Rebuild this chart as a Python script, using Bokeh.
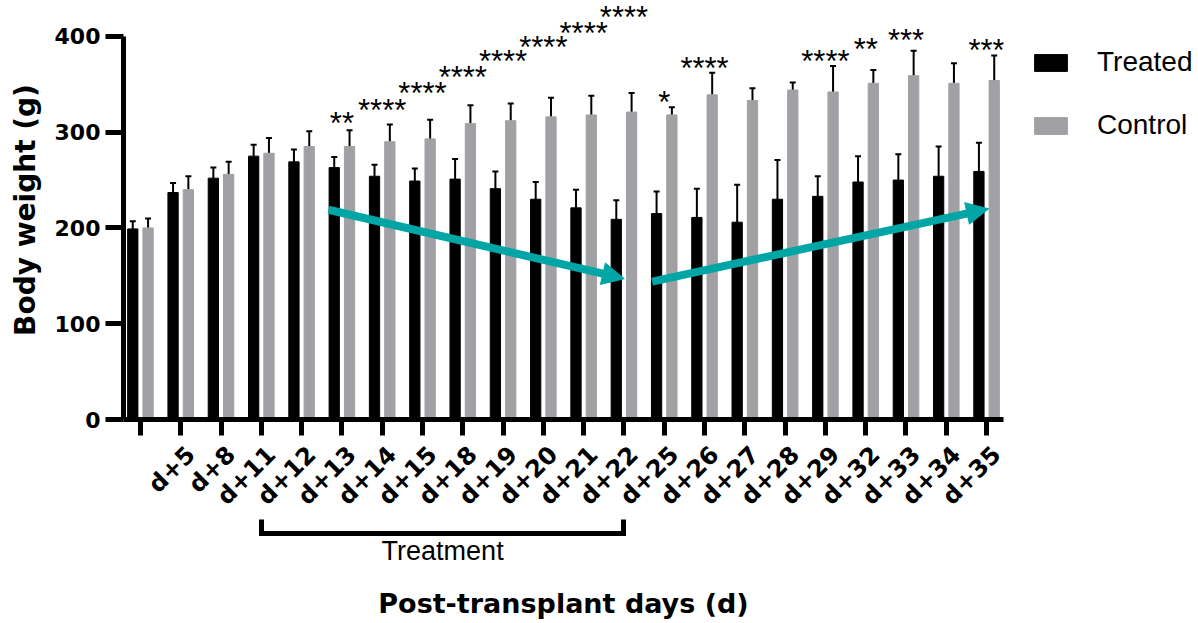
import math
from bokeh.plotting import figure
from bokeh.models import (Range1d, FixedTicker, LinearAxis, Legend, LegendItem,
                          Whisker, TeeHead, Arrow, NormalHead, ColumnDataSource)
from bokeh.core.properties import value
from bokeh.embed import file_html
from bokeh.resources import INLINE

# ---------------- data ----------------
day_labels = ["", "d+5", "d+8", "d+11", "d+12", "d+13", "d+14", "d+15", "d+18", "d+19",
              "d+20", "d+21", "d+22", "d+25", "d+26", "d+27", "d+28", "d+29", "d+32",
              "d+33", "d+34", "d+35"]
treated_mean = [199, 237, 252, 275, 269, 263, 254, 249, 251, 241, 230, 221, 209, 215, 211,
                206, 230, 233, 248, 250, 254, 259]
treated_sd = [8, 10, 11, 12, 13, 11, 12, 13, 21, 18, 18, 19, 20, 23, 30, 39, 41, 21, 27,
              27, 31, 30]
control_mean = [200, 240, 256, 278, 285, 285, 290, 293, 309, 312, 316, 318, 321, 318, 339,
                333, 344, 342, 351, 359, 351, 354]
control_sd = [10, 14, 13, 16, 16, 17, 18, 20, 19, 18, 20, 20, 20, 8, 23, 13, 8, 27, 14, 26,
              21, 26]
star_groups = [5, 6, 7, 8, 9, 10, 11, 12, 13, 14, 17, 18, 19, 21]
star_marks = ["**", "****", "****", "****", "****", "****", "****", "****", "*", "****",
              "****", "**", "***", "***"]
star_heights = [312, 326, 344, 360, 377, 392, 406, 423, 334, 370, 377, 389, 399, 388]
treatment_groups = [3, 12]          # d+11 .. d+22
trend_down = [(4.67, 219), (12.01, 147)]
trend_up = [(12.70, 144), (21.05, 220)]
series_names = ["Treated", "Control"]

# ---------------- styles ----------------
BLACK = "#000000"
GREY = "#a1a0a5"
TEAL = "#00a5a5"
BOLD_FONT = "DejaVu Sans"
REG_FONT = "Liberation Sans"
OFF = 0.19
BW = 0.255
LABEL_SHIFT = 0.25   # rotated labels sit a little right of their tick

x = list(range(len(day_labels)))
xt = [i - OFF for i in x]
xc = [i + OFF for i in x]

src = ColumnDataSource(dict(
    xt=xt, xc=xc, tm=treated_mean, cm=control_mean,
    tu=[m + s for m, s in zip(treated_mean, treated_sd)],
    cu=[m + s for m, s in zip(control_mean, control_sd)],
))

p = figure(frame_width=880, frame_height=419,
           x_range=Range1d(-0.42, 21.42), y_range=Range1d(0, 437.5),
           output_backend="svg", toolbar_location=None,
           min_border_left=123, min_border_right=192, min_border_top=0, min_border_bottom=0)
p.outline_line_color = None
p.xgrid.visible = False
p.ygrid.visible = False
p.background_fill_color = "white"
p.border_fill_color = "white"

r_t = p.vbar(x="xt", top="tm", width=BW, source=src, fill_color=BLACK, line_color=BLACK)
r_c = p.vbar(x="xc", top="cm", width=BW, source=src, fill_color=GREY, line_color=GREY)

for base, lo, up in (("xt", "tm", "tu"), ("xc", "cm", "cu")):
    p.add_layout(Whisker(source=src, base=base, lower=lo, upper=up, dimension="height",
                         line_width=2, line_color=BLACK, lower_head=None,
                         upper_head=TeeHead(size=6, line_width=2, line_color=BLACK)))

# significance stars
p.text(x=star_groups, y=star_heights, text=star_marks, text_align="center",
       text_baseline="middle", text_font=value(REG_FONT), text_font_size="31px",
       text_color=BLACK, y_offset=3)

# trend arrows
for (x0, y0), (x1, y1) in (trend_down, trend_up):
    p.add_layout(Arrow(x_start=x0, y_start=y0, x_end=x1, y_end=y1, line_color=TEAL,
                       line_width=8,
                       end=NormalHead(size=22, fill_color=TEAL, line_color=TEAL, line_width=1)))

# y axis
ya = p.yaxis[0]
ya.ticker = FixedTicker(ticks=[0, 100, 200, 300, 400])
ya.bounds = (0, 400)
ya.axis_line_width = 5
ya.major_tick_line_width = 5
ya.major_tick_out = 18
ya.major_tick_in = 0
ya.minor_tick_line_color = None
ya.major_label_text_font = BOLD_FONT
ya.major_label_text_font_style = "bold"
ya.major_label_text_font_size = "22px"
ya.major_label_text_color = BLACK
ya.major_label_standoff = 5
ya.axis_label = "Body weight (g)"
ya.axis_label_text_font = BOLD_FONT
ya.axis_label_text_font_style = "bold"
ya.axis_label_text_font_size = "28px"
ya.axis_label_text_color = BLACK
ya.axis_label_standoff = 10

# main x axis: tick marks at group centres (minor ticks), labels slightly to the right
label_pos = [i + LABEL_SHIFT for i in x]
xa = p.xaxis[0]
xa.ticker = FixedTicker(ticks=label_pos, minor_ticks=x)
xa.bounds = (-0.42, 21.42)
xa.major_label_overrides = {lp: lab for lp, lab in zip(label_pos, day_labels)}
xa.major_label_orientation = math.pi / 4
xa.axis_line_width = 5
xa.major_tick_line_color = None
xa.major_tick_out = 16
xa.major_tick_in = 0
xa.minor_tick_line_width = 5
xa.minor_tick_line_color = BLACK
xa.minor_tick_out = 16
xa.minor_tick_in = 0
xa.major_label_text_font = BOLD_FONT
xa.major_label_text_font_style = "bold"
xa.major_label_text_font_size = "24px"
xa.major_label_text_color = BLACK
xa.major_label_standoff = 15
xa.axis_label = "\u00a0"
xa.axis_label_text_font_size = "7px"
xa.axis_label_standoff = 0

# treatment bracket axis
mid = (treatment_groups[0] + treatment_groups[1]) / 2
ba = LinearAxis(ticker=FixedTicker(ticks=[mid], minor_ticks=treatment_groups),
                bounds=(treatment_groups[0], treatment_groups[1]),
                major_label_overrides={mid: "Treatment"})
ba.axis_line_width = 5
ba.axis_line_cap = "square"
ba.minor_tick_in = 14
ba.minor_tick_out = 0
ba.minor_tick_line_width = 5
ba.major_tick_in = 0
ba.major_tick_out = 0
ba.major_tick_line_color = None
ba.major_label_text_font = REG_FONT
ba.major_label_text_font_size = "27px"
ba.major_label_text_color = BLACK
ba.major_label_standoff = 2
ba.axis_label = "Post-transplant days (d)"
ba.axis_label_text_font = BOLD_FONT
ba.axis_label_text_font_style = "bold"
ba.axis_label_text_font_size = "27px"
ba.axis_label_text_color = BLACK
ba.axis_label_standoff = 19
p.add_layout(ba, "below")

legend = Legend(items=[LegendItem(label=series_names[0], renderers=[r_t]),
                       LegendItem(label=series_names[1], renderers=[r_c])],
                location="top_left", orientation="vertical")
legend.title = "\u00a0"
legend.title_text_font_size = "12px"
legend.title_standoff = 5
legend.padding = 0
legend.margin = 27
legend.border_line_color = None
legend.background_fill_alpha = 0
legend.glyph_width = 41
legend.glyph_height = 21
legend.label_height = 21
legend.label_standoff = 26
legend.spacing = 31
legend.label_text_font = REG_FONT
legend.label_text_font_size = "28px"
legend.label_text_color = BLACK
legend.label_text_baseline = "middle"
p.add_layout(legend, "right")

open("out.html", "w").write(file_html(p, INLINE))
